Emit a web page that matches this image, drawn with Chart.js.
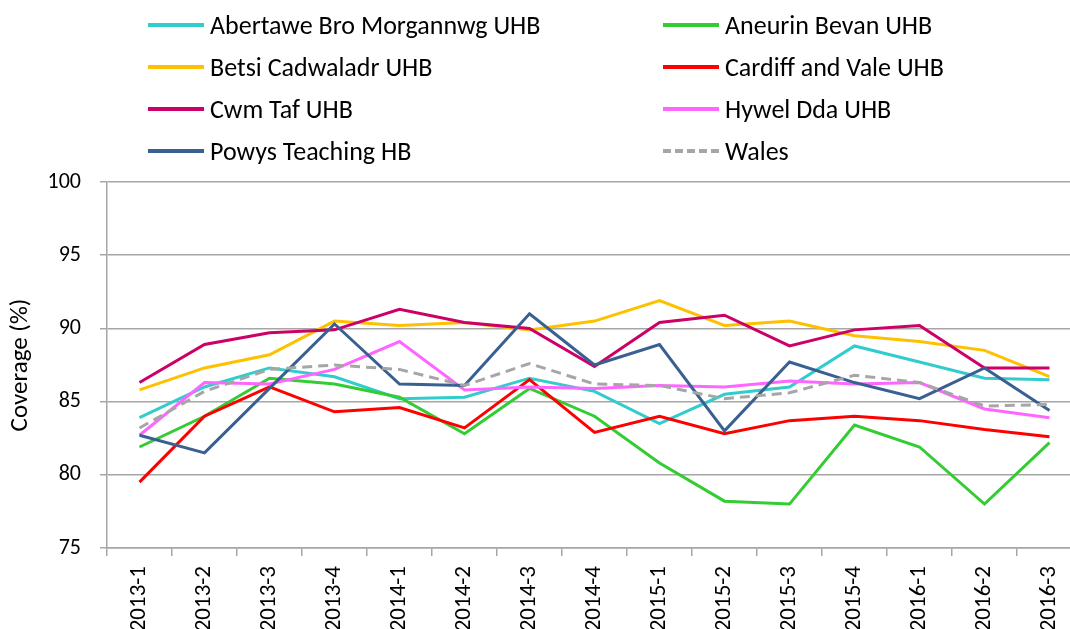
<!DOCTYPE html>
<html>
<head>
<meta charset="utf-8">
<script src="https://cdn.jsdelivr.net/npm/chart.js@4.4.1/dist/chart.umd.min.js"></script>
<style>
  body { margin: 0; background: #fff; overflow: hidden; }
  #wrap { position: relative; width: 1082px; height: 629px; }
  #legend { position: absolute; left: 0; top: 0; width: 1070px; height: 175px;
    font-family: Carlito, Lato, sans-serif; font-size: 26px; color: #000; }
  .item { position: absolute; display: flex; align-items: center; height: 32px; white-space: nowrap; }
  .swatch { width: 56px; height: 0; border-top: 4px solid; margin-right: 6px; }
</style>
</head>
<body>
<div id="wrap">
  <canvas id="myChart"></canvas>
  <div id="legend"></div>
</div>
<script>
const labels = ['2013-1','2013-2','2013-3','2013-4','2014-1','2014-2','2014-3','2014-4',
                '2015-1','2015-2','2015-3','2015-4','2016-1','2016-2','2016-3'];

const names = ['Abertawe Bro Morgannwg UHB', 'Aneurin Bevan UHB', 'Betsi Cadwaladr UHB',
               'Cardiff and Vale UHB', 'Cwm Taf UHB', 'Hywel Dda UHB', 'Powys Teaching HB', 'Wales'];

const abertawe = [83.9, 86.0, 87.3, 86.7, 85.2, 85.3, 86.6, 85.7, 83.5, 85.5, 86.0, 88.8, 87.7, 86.6, 86.5];
const aneurin  = [81.9, 84.0, 86.6, 86.2, 85.3, 82.8, 85.9, 84.0, 80.8, 78.2, 78.0, 83.4, 81.9, 78.0, 82.2];
const betsi    = [85.8, 87.3, 88.2, 90.5, 90.2, 90.4, 89.9, 90.5, 91.9, 90.2, 90.5, 89.5, 89.1, 88.5, 86.7];
const cardiff  = [79.5, 84.0, 86.0, 84.3, 84.6, 83.2, 86.5, 82.9, 84.0, 82.8, 83.7, 84.0, 83.7, 83.1, 82.6];
const cwmTaf   = [86.3, 88.9, 89.7, 89.9, 91.3, 90.4, 90.0, 87.4, 90.4, 90.9, 88.8, 89.9, 90.2, 87.3, 87.3];
const hywelDda = [82.7, 86.3, 86.2, 87.2, 89.1, 85.8, 86.0, 85.9, 86.1, 86.0, 86.4, 86.2, 86.3, 84.5, 83.9];
const powys    = [82.7, 81.5, 85.9, 90.3, 86.2, 86.1, 91.0, 87.5, 88.9, 83.0, 87.7, 86.3, 85.2, 87.3, 84.4];
const wales    = [83.2, 85.7, 87.2, 87.5, 87.2, 86.1, 87.6, 86.2, 86.1, 85.2, 85.6, 86.8, 86.3, 84.7, 84.8];

const yTicks = [75, 80, 85, 90, 95, 100];

const series = [abertawe, aneurin, betsi, cardiff, cwmTaf, hywelDda, powys, wales];
const colors = ['#33CCCC', '#33CC33', '#FFC000', '#FF0000', '#CC0066', '#FF66FF', '#3A6091', '#A6A6A6'];

const font = "Carlito, Lato, sans-serif";
const grid = '#A6A6A6';

const datasets = series.map((d, i) => ({
  label: names[i],
  data: d,
  borderColor: colors[i],
  backgroundColor: colors[i],
  borderWidth: 3,
  borderDash: names[i] === 'Wales' ? [10, 6] : [],
  pointRadius: 0,
  tension: 0,
  fill: false,
  order: series.length - i
}));

// legend, two columns
const leg = document.getElementById('legend');
names.forEach((n, i) => {
  const col = i % 2, row = Math.floor(i / 2);
  const el = document.createElement('div');
  el.className = 'item';
  el.style.left = (col === 0 ? 148 : 663) + 'px';
  el.style.top = (25 + row * 42 - 16) + 'px';
  const sw = document.createElement('span');
  sw.className = 'swatch';
  sw.style.borderTopColor = colors[i];
  if (n === 'Wales') sw.style.borderTopStyle = 'dashed';
  const tx = document.createElement('span');
  tx.textContent = n;
  el.appendChild(sw);
  el.appendChild(tx);
  leg.appendChild(el);
});

const myChart = new Chart(document.getElementById('myChart'), {
  type: 'line',
  data: { labels: labels, datasets: datasets },
  options: {
    responsive: true,
    maintainAspectRatio: false,
    animation: false,
    layout: { padding: { top: 182, left: 0, right: 0, bottom: 0 } },
    plugins: { legend: { display: false }, tooltip: { enabled: false } },
    scales: {
      x: {
        offset: true,
        grid: { offset: true, drawOnChartArea: false, drawTicks: true, tickLength: 8, color: grid, lineWidth: 1.5 },
        border: { display: true, color: grid, width: 1.5 },
        ticks: { minRotation: 90, maxRotation: 90, padding: 10, color: '#000', font: { family: font, size: 23 } },
        afterFit: s => { s.height = 81; s.paddingLeft = 0; s.paddingRight = 0; }
      },
      y: {
        min: 75,
        max: 100,
        afterBuildTicks: s => { s.ticks = yTicks.map(v => ({ value: v })); },
        grid: { color: grid, lineWidth: 1.5, tickLength: 7 },
        border: { display: true, color: grid, width: 1.5 },
        ticks: { padding: 19, color: '#000', font: { family: font, size: 22 } },
        title: { display: true, text: 'Coverage (%)', color: '#000', padding: { top: 6, bottom: 0 },
                 font: { family: font, size: 25 } },
        afterFit: s => { s.width = 107; s.paddingTop = 0; s.paddingBottom = 0; }
      }
    }
  }
});
</script>
</body>
</html>
